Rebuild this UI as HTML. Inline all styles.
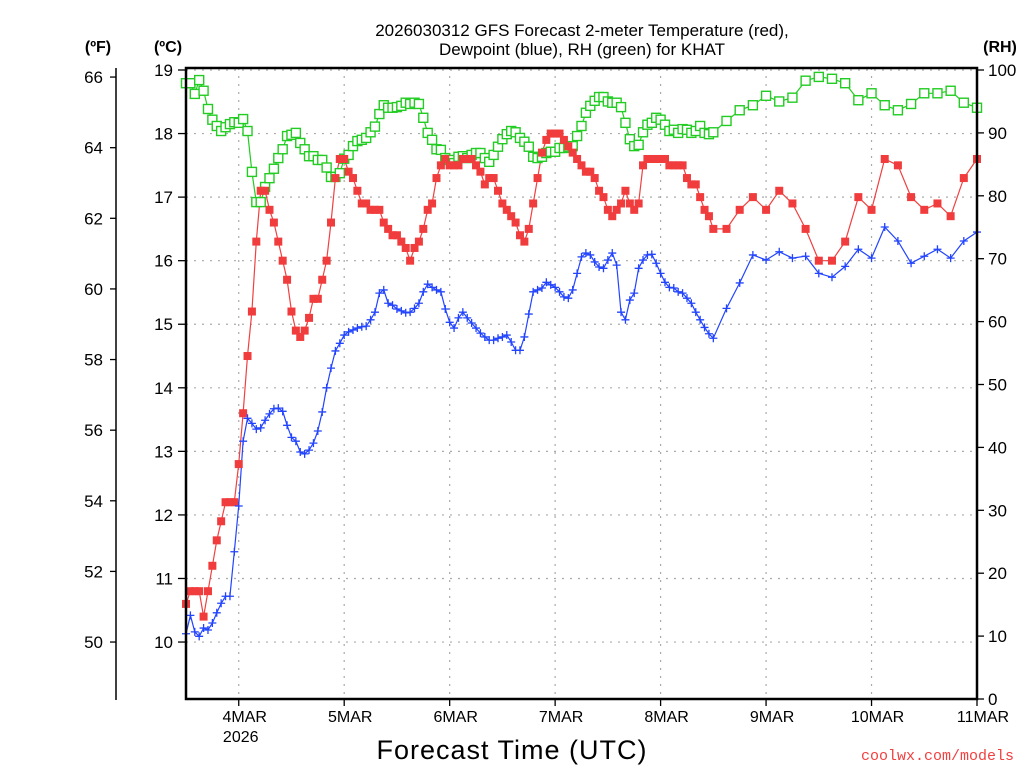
<!DOCTYPE html>
<html><head><meta charset="utf-8"><style>
html,body{margin:0;padding:0;background:#fff;}
svg{display:block;font-family:"Liberation Sans",sans-serif;}
</style></head><body>
<svg id="chart" width="1024" height="768" viewBox="0 0 1024 768" xmlns="http://www.w3.org/2000/svg">
<rect x="0" y="0" width="1024" height="768" fill="#fff"/>
<g id="grid"></g>
<g id="series"></g>
<g id="axes"></g>
<text x="582" y="36" font-size="17" text-anchor="middle" fill="#000">2026030312 GFS Forecast 2-meter Temperature (red),</text>
<text x="582" y="55" font-size="17" text-anchor="middle" fill="#000">Dewpoint (blue), RH (green) for KHAT</text>
<text x="98" y="52" font-size="16" font-weight="bold" text-anchor="middle">(ºF)</text>
<text x="168" y="52" font-size="16" font-weight="bold" text-anchor="middle">(ºC)</text>
<text x="1000" y="52" font-size="16" font-weight="bold" text-anchor="middle">(RH)</text>
<text x="512" y="759" font-size="27" text-anchor="middle" letter-spacing="1">Forecast Time (UTC)</text>
<text x="1014" y="760" font-size="15" text-anchor="end" fill="#f04040" font-family="Liberation Mono, monospace">coolwx.com/models</text>
</svg>
<script>
// ---- data ----
const tempC = [10.6,10.8,10.8,10.8,10.4,10.8,11.2,11.6,11.9,12.2,12.2,12.2,12.8,13.6,14.5,15.2,16.3,17.1,17.1,16.8,16.6,16.3,16.0,15.7,15.2,14.9,14.8,14.9,15.1,15.4,15.4,15.7,16.0,16.6,17.3,17.6,17.6,17.4,17.3,17.1,16.9,16.9,16.8,16.8,16.8,16.6,16.5,16.4,16.4,16.3,16.2,16.0,16.2,16.3,16.5,16.8,16.9,17.3,17.5,17.6,17.5,17.5,17.5,17.6,17.6,17.6,17.5,17.4,17.2,17.3,17.3,17.1,16.9,16.8,16.7,16.6,16.4,16.3,16.5,16.9,17.3,17.7,17.9,18.0,18.0,18.0,17.9,17.8,17.7,17.6,17.5,17.4,17.4,17.3,17.1,17.0,16.8,16.7,16.8,16.9,17.1,16.9,16.8,16.9,17.5,17.6,17.6,17.6,17.6,17.6,17.5,17.5,17.5,17.5,17.3,17.2,17.2,17.0,16.8,16.7,16.5,
16.5,16.8,17.0,16.8,17.1,16.9,16.5,16.0,16.0,16.3,17.0,16.8,17.6,17.5,17.0,16.8,16.9,16.7,17.3,17.6];
const dewC = [10.13,10.42,10.16,10.09,10.22,10.19,10.30,10.46,10.61,10.72,10.72,11.42,12.14,13.16,13.52,13.44,13.35,13.37,13.49,13.59,13.67,13.68,13.63,13.41,13.22,13.16,12.99,12.96,13.02,13.13,13.32,13.62,14.00,14.31,14.58,14.70,14.83,14.88,14.91,14.94,14.96,14.97,15.07,15.19,15.49,15.54,15.33,15.30,15.24,15.21,15.18,15.19,15.25,15.33,15.51,15.63,15.58,15.54,15.51,15.24,15.03,14.94,15.10,15.19,15.10,15.02,14.94,14.86,14.80,14.75,14.75,14.78,14.80,14.83,14.72,14.59,14.59,14.80,15.16,15.51,15.54,15.57,15.66,15.62,15.58,15.51,15.43,15.41,15.54,15.80,16.06,16.12,16.09,15.98,15.90,15.88,16.01,16.12,15.93,15.19,15.07,15.38,15.49,15.88,16.01,16.09,16.10,15.96,15.80,15.66,15.58,15.57,15.51,15.49,15.41,15.33,15.19,15.07,14.95,14.85,14.78,
15.25,15.65,16.09,16.01,16.14,16.04,16.07,15.80,15.74,15.91,16.18,16.04,16.53,16.31,15.96,16.07,16.18,16.04,16.31,16.45];
const rhPct = [97.9,97.9,96.2,98.4,96.7,93.8,92.1,91.1,90.3,90.9,91.4,91.7,91.6,92.2,90.3,83.8,79.0,79.0,81.4,82.8,84.3,86.0,87.4,89.5,89.7,90.0,88.4,87.4,86.3,86.3,85.7,85.7,84.5,83.0,83.0,83.6,85.9,86.5,87.9,88.7,88.9,89.2,90.1,91.0,93.0,94.4,94.0,94.0,94.1,94.3,94.8,94.6,94.8,94.6,92.4,90.0,88.9,87.4,87.3,86.0,85.7,85.2,86.2,86.3,86.0,86.5,86.8,86.8,86.0,85.4,86.5,87.8,89.0,89.8,90.3,90.1,89.2,88.6,87.8,86.2,86.0,86.2,86.8,87.0,87.0,87.6,87.6,87.8,87.9,89.5,91.1,93.2,94.3,95.1,95.7,95.7,95.0,94.8,94.8,94.1,91.6,89.0,87.9,88.1,90.1,91.3,91.6,92.4,92.1,91.3,90.3,90.5,90.0,90.6,90.5,90.0,90.3,91.1,90.0,89.8,90.1,
91.9,93.6,94.4,95.9,95.0,95.6,98.3,98.9,98.6,97.9,95.2,96.3,94.4,93.6,94.6,96.3,96.3,96.7,94.8,94.0];
const dayLabels = ["4MAR","5MAR","6MAR","7MAR","8MAR","9MAR","10MAR","11MAR"];
const fTicks = [50,52,54,56,58,60,62,64,66];
const cTicks = [10,11,12,13,14,15,16,17,18,19];
const rhTicks = [0,10,20,30,40,50,60,70,80,90,100];
// forecast hours: hourly to 120, then 3-hourly to 180
const hours = [];
for (let h = 0; h <= 120; h++) hours.push(h);
for (let h = 123; h <= 180; h += 3) hours.push(h);

// ---- scales ----
const L = 186, R = 977, T = 68, B = 699;
const xS = h => L + (R - L) * h / 180;
const cS = c => 70 + (19 - c) * 63.56;
const fS = f => cS((f - 32) / 1.8);
const rS = r => B - r * (B - 70) / 100;
const NS = "http://www.w3.org/2000/svg";
function mk(tag, attrs, parent) {
  const e = document.createElementNS(NS, tag);
  for (const k in attrs) e.setAttribute(k, attrs[k]);
  parent.appendChild(e);
  return e;
}
const grid = document.getElementById('grid');
const axes = document.getElementById('axes');
const series = document.getElementById('series');

// grid
cTicks.forEach(c => {
  const y = cS(c);
  const g = mk('line', {x1: L, x2: R, y1: y, y2: y, stroke: '#aaa', 'stroke-width': 1.2, 'stroke-dasharray': '2 6'}, grid);
  
  
});
dayLabels.forEach((d, i) => {
  const x = xS(12 + 24 * i);
  const g = mk('line', {x1: x, x2: x, y1: T, y2: B, stroke: '#aaa', 'stroke-width': 1.2, 'stroke-dasharray': '2 6'}, grid);
  
  
  const tk = mk('line', {x1: x, x2: x, y1: B, y2: B + 7, stroke: '#000', 'stroke-width': 1.3}, axes);
  
  
  const t = mk('text', {x: x + 6, y: B + 23, 'font-size': 16, 'text-anchor': 'middle'}, axes);
  t.textContent = d;
  
  
});
const yr = mk('text', {x: xS(12) + 2, y: B + 43, 'font-size': 16, 'text-anchor': 'middle'}, axes);
yr.textContent = '2026';



// frame
const fr = mk('rect', {x: L, y: T, width: R - L, height: B - T, fill: 'none', stroke: '#000', 'stroke-width': 2.5}, axes);


// F axis
const fa = mk('line', {x1: 116, x2: 116, y1: T, y2: 700, stroke: '#000', 'stroke-width': 1.5}, axes);


fTicks.forEach(f => {
  const y = fS(f);
  const tk = mk('line', {x1: 110, x2: 116, y1: y, y2: y, stroke: '#000', 'stroke-width': 1.3}, axes);
  
  
  const t = mk('text', {x: 103, y: y + 6, 'font-size': 17, 'text-anchor': 'end'}, axes);
  t.textContent = f;
  
  
});
cTicks.forEach(c => {
  const y = cS(c);
  const tk = mk('line', {x1: 178, x2: L, y1: y, y2: y, stroke: '#000', 'stroke-width': 1.3}, axes);
  
  
  const t = mk('text', {x: 173, y: y + 6, 'font-size': 17, 'text-anchor': 'end'}, axes);
  t.textContent = c;
  
  
});
rhTicks.forEach(r => {
  const y = rS(r);
  const tk = mk('line', {x1: R, x2: R + 7, y1: y, y2: y, stroke: '#000', 'stroke-width': 1.3}, axes);
  
  
  const t = mk('text', {x: 988, y: y + 6, 'font-size': 17, 'text-anchor': 'start'}, axes);
  t.textContent = r;
  
  
});

// series
function line(vals, sc, color, name) {
  const pts = vals.map((v, i) => xS(hours[i]).toFixed(1) + ',' + sc(v).toFixed(1)).join(' ');
  const p = mk('polyline', {points: pts, fill: 'none', stroke: color, 'stroke-width': 1.2}, series);
  
  
}
line(rhPct, rS, '#22cc22', 'rh-line');
line(tempC, cS, '#f04040', 'temperature-line');
line(dewC, cS, '#2244ff', 'dewpoint-line');
rhPct.forEach((v, i) => {
  const m = mk('rect', {x: xS(hours[i]) - 4.5, y: rS(v) - 4.5, width: 9, height: 9, fill: '#fff', stroke: '#22cc22', 'stroke-width': 1.4}, series);
  
  
});
tempC.forEach((v, i) => {
  const m = mk('rect', {x: xS(hours[i]) - 4, y: cS(v) - 4, width: 8, height: 8, fill: '#f03c3c'}, series);
  
  
});
dewC.forEach((v, i) => {
  const x = xS(hours[i]), y = cS(v);
  const m = mk('path', {d: `M${x-4},${y}H${x+4}M${x},${y-4}V${y+4}`, stroke: '#2244ff', 'stroke-width': 1.3, fill: 'none'}, series);
  
  
});
</script>
</body></html>
